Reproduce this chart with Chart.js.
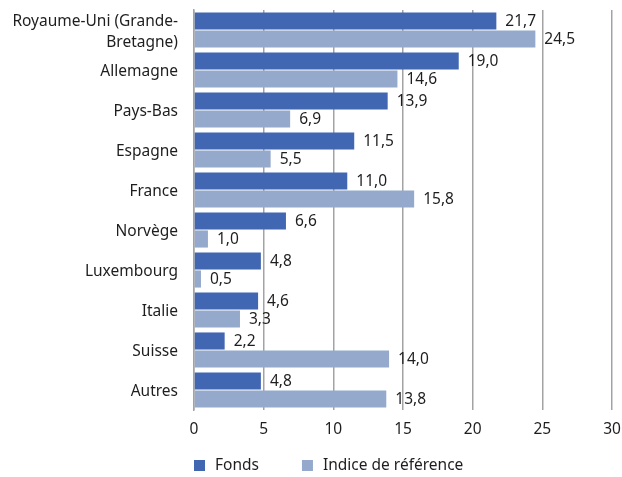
<!DOCTYPE html>
<html><head><meta charset="utf-8">
<script src="https://cdn.jsdelivr.net/npm/chart.js@4/dist/chart.umd.min.js"></script>
<style>html,body{margin:0;padding:0;background:#fff}#wrap{width:622px;height:477px;position:relative}</style>
</head><body><div id="wrap"><canvas id="c"></canvas></div>
<script>
const categories = [["Royaume-Uni (Grande-","Bretagne)"],"Allemagne","Pays-Bas","Espagne","France","Norvège","Luxembourg","Italie","Suisse","Autres"];
const seriesNames = ["Fonds","Indice de référence"];
const fonds = [21.7,19.0,13.9,11.5,11.0,6.6,4.8,4.6,2.2,4.8];
const indice = [24.5,14.6,6.9,5.5,15.8,1.0,0.5,3.3,14.0,13.8];
const xTicks = [0,5,10,15,20,25,30];

const FONT = "'Noto Sans', 'Open Sans', sans-serif";
const TXT = '#1e1e1e';
const GRID = '#a3a3a3';

const valueLabels = {
  id:'valueLabels',
  afterDatasetsDraw(chart){
    const ctx = chart.ctx;
    ctx.save();
    ctx.font = '15.5px ' + FONT;
    ctx.fillStyle = TXT;
    ctx.textBaseline = 'middle';
    ctx.textAlign = 'left';
    chart.data.datasets.forEach((ds,di)=>{
      const meta = chart.getDatasetMeta(di);
      meta.data.forEach((el,i)=>{
        const t = ds.data[i].toFixed(1).replace('.',',');
        ctx.fillText(t, el.x + 9, el.y + 1);
      });
    });
    ctx.restore();
  }
};

const customLegend = {
  id:'customLegend',
  afterDraw(chart){
    const ctx = chart.ctx;
    ctx.save();
    ctx.font = '15.5px ' + FONT;
    ctx.textBaseline = 'middle';
    let x = chart.chartArea.left;
    const y = 466;
    chart.data.datasets.forEach((ds)=>{
      ctx.fillStyle = ds.backgroundColor;
      ctx.fillRect(x, y-6, 11, 11);
      ctx.fillStyle = TXT;
      ctx.fillText(ds.label, x + 21, y);
      x = x + 21 + ctx.measureText(ds.label).width + 43;
    });
    ctx.restore();
  }
};

new Chart(document.getElementById('c'), {
  type:'bar',
  data:{
    labels:categories,
    datasets:[
      {label:seriesNames[0], data:fonds, backgroundColor:'#4267b2', borderWidth:0, categoryPercentage:0.9, barPercentage:0.95},
      {label:seriesNames[1], data:indice, backgroundColor:'#94a9cb', borderWidth:0, categoryPercentage:0.9, barPercentage:0.95}
    ]
  },
  options:{
    indexAxis:'y',
    responsive:true,
    maintainAspectRatio:false,
    animation:false,
    layout:{padding:{top:10,right:10,left:0,bottom:37}},
    plugins:{legend:{display:false},tooltip:{enabled:false}},
    scales:{
      x:{
        min:0,max:30,
        afterBuildTicks(s){ s.ticks = xTicks.map(v=>({value:v})); },
        afterFit(s){ s.height = 30; s.paddingLeft = 0; s.paddingRight = 0; },
        grid:{color:GRID,lineWidth:1.5,drawTicks:false},
        border:{display:false},
        ticks:{padding:10,color:TXT,font:{family:FONT,size:15.5},callback:(v)=>String(v)}
      },
      y:{
        afterFit(s){ s.width = 194; s.paddingTop = 0; s.paddingBottom = 0; },
        grid:{display:false,drawTicks:false},
        border:{display:true,color:GRID,width:1.5},
        ticks:{autoSkip:false,padding:16,labelOffset:2,color:TXT,font:{family:FONT,size:15.5,lineHeight:1.4}}
      }
    }
  },
  plugins:[valueLabels, customLegend]
});
</script></body></html>
